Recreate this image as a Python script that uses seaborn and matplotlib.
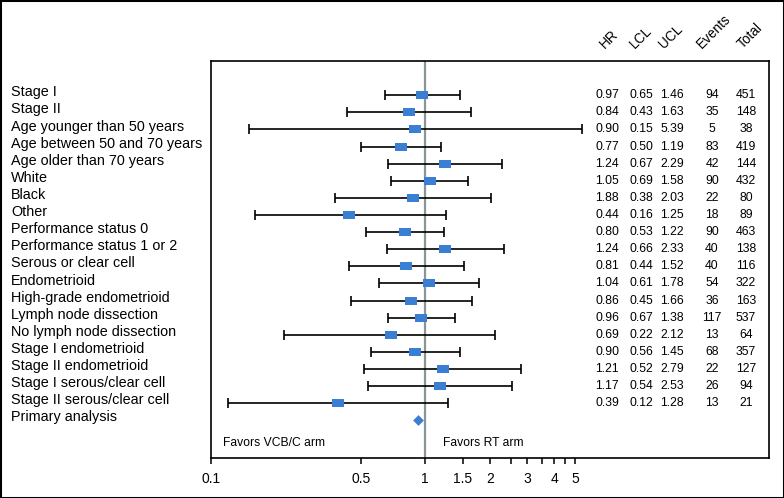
import numpy as np
import pandas as pd
import matplotlib
matplotlib.use("Agg")
import matplotlib.pyplot as plt
import matplotlib.transforms as mtransforms
from matplotlib.patches import Rectangle
import seaborn as sns

labels = ["Stage I", "Stage II", "Age younger than 50 years", "Age between 50 and 70 years",
          "Age older than 70 years", "White", "Black", "Other", "Performance status 0",
          "Performance status 1 or 2", "Serous or clear cell", "Endometrioid",
          "High-grade endometrioid", "Lymph node dissection", "No lymph node dissection",
          "Stage I endometrioid", "Stage II endometrioid", "Stage I serous/clear cell",
          "Stage II serous/clear cell"]
hr = [0.97, 0.84, 0.90, 0.77, 1.24, 1.05, 0.88, 0.44, 0.80, 1.24, 0.81, 1.04, 0.86, 0.96,
      0.69, 0.90, 1.21, 1.17, 0.39]
hr_text = ["0.97", "0.84", "0.90", "0.77", "1.24", "1.05", "1.88", "0.44", "0.80", "1.24",
           "0.81", "1.04", "0.86", "0.96", "0.69", "0.90", "1.21", "1.17", "0.39"]
lcl = [0.65, 0.43, 0.15, 0.50, 0.67, 0.69, 0.38, 0.16, 0.53, 0.66, 0.44, 0.61, 0.45, 0.67,
       0.22, 0.56, 0.52, 0.54, 0.12]
ucl = [1.46, 1.63, 5.39, 1.19, 2.29, 1.58, 2.03, 1.25, 1.22, 2.33, 1.52, 1.78, 1.66, 1.38,
       2.12, 1.45, 2.79, 2.53, 1.28]
events = [94, 35, 5, 83, 42, 90, 22, 18, 90, 40, 40, 54, 36, 117, 13, 68, 22, 26, 13]
total = [451, 148, 38, 419, 144, 432, 80, 89, 463, 138, 116, 322, 163, 537, 64, 357, 127, 94, 21]
primary_label = "Primary analysis"
primary_hr = 0.92
col_headers = ["HR", "LCL", "UCL", "Events", "Total"]
xticks = [0.1, 0.5, 1, 1.5, 2, 2.5, 3, 3.5, 4, 4.5, 5]
xticklabels = ["0.1", "0.5", "1", "1.5", "2", "", "3", "", "4", "", "5"]

sns.set_theme(style="ticks")
plt.rcParams["font.family"] = ["Liberation Sans", "DejaVu Sans"]

BLUE = "#3b7fd4"
fig = plt.figure(figsize=(7.84, 4.98), dpi=100)
ax = fig.add_axes([211 / 784, 1 - 458 / 498, 558 / 784, 397 / 498])

n = len(labels)
rows = np.arange(n)
df = pd.DataFrame({"label": labels, "hr": hr, "lcl": lcl, "ucl": ucl, "row": rows})

ax.axvline(1, color="#8a9696", lw=1.6, zorder=1)
ax.errorbar(df["hr"], df["row"], xerr=[df["hr"] - df["lcl"], df["ucl"] - df["hr"]],
            fmt="none", ecolor="black", elinewidth=1.2, capsize=3.3, capthick=1.2, zorder=2)
rect = [(-1, -0.72), (1, -0.72), (1, 0.72), (-1, 0.72), (-1, -0.72)]
sns.scatterplot(data=df, x="hr", y="row", marker=rect, s=64, color=BLUE, linewidth=0,
                ax=ax, zorder=3, legend=False)
pdf = pd.DataFrame({"hr": [primary_hr], "row": [n]})
sns.scatterplot(data=pdf, x="hr", y="row", marker="D", s=30, color=BLUE, linewidth=0,
                ax=ax, zorder=3, legend=False)

ax.set_xscale("log")
ax.set_xlim(0.1, 40.2)
ax.set_ylim(n + 2.2, -2.0)
ax.set_xticks(xticks)
ax.set_xticklabels(xticklabels)
ax.xaxis.set_minor_locator(matplotlib.ticker.NullLocator())
ax.set_yticks([])
ax.set_xlabel("")
ax.set_ylabel("")
ax.tick_params(axis="x", direction="out", length=4, width=1.1, pad=6, labelsize=10,
               colors="black")
for sp in ax.spines.values():
    sp.set_visible(True)
    sp.set_color("black")
    sp.set_linewidth(1.2)

# left labels
trans_lbl = mtransforms.blended_transform_factory(fig.transFigure, ax.transData)
for i, lab in enumerate(labels + [primary_label]):
    fig.text(11 / 784, i - 0.17, lab, transform=trans_lbl, ha="left", va="center",
             fontsize=10.4, color="black")

# table
trans_tab = mtransforms.blended_transform_factory(ax.transAxes, ax.transData)
col_x = [(607 - 211) / 558, (641 - 211) / 558, (672 - 211) / 558, (712 - 211) / 558,
         (746 - 211) / 558]
for i in range(n):
    vals = [hr_text[i], f"{lcl[i]:.2f}", f"{ucl[i]:.2f}", str(events[i]), str(total[i])]
    for cx, v in zip(col_x, vals):
        ax.text(cx, i, v, transform=trans_tab, ha="center", va="center", fontsize=8.8,
                color="black")

# headers
hdr_x = [605, 635, 664, 702, 743]
for hx, h in zip(hdr_x, col_headers):
    fig.text(hx / 784, 1 - 49 / 498, h, rotation=45, rotation_mode="anchor",
             ha="left", va="baseline", fontsize=9.8, color="black")

ax.text((223 - 211) / 558, 15 / 397, "Favors VCB/C arm", transform=ax.transAxes,
        ha="left", va="center", fontsize=8.7, color="black")
ax.text((443 - 211) / 558, 15 / 397, "Favors RT arm", transform=ax.transAxes,
        ha="left", va="center", fontsize=8.7, color="black")

fig.patches.append(Rectangle((0, 0), 1, 1, transform=fig.transFigure, fill=False,
                             edgecolor="black", lw=2.2, zorder=10))
fig.savefig("out.png", dpi=100)
